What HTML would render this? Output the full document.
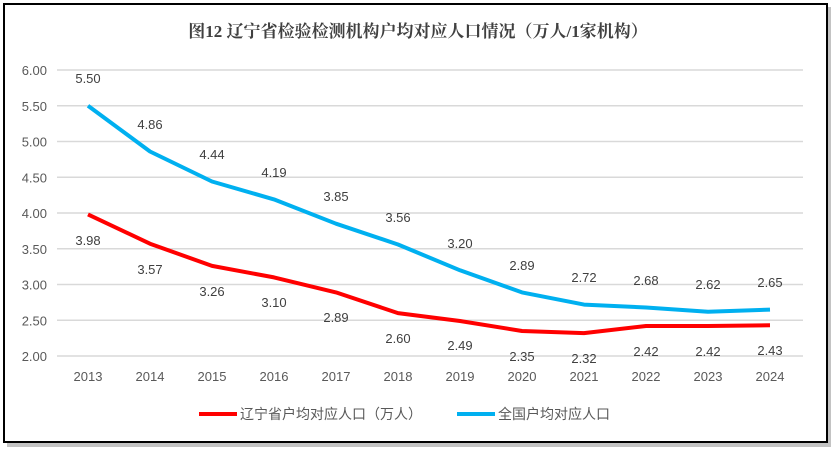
<!DOCTYPE html>
<html><head><meta charset="utf-8"><style>
html,body{margin:0;padding:0;background:#fff;}
</style></head><body>
<svg width="836" height="453" xmlns="http://www.w3.org/2000/svg" font-family="Liberation Sans, Noto Sans CJK SC, sans-serif">
<rect x="7" y="7" width="824" height="440" fill="#888" opacity="0.5"/>
<rect x="4" y="4" width="823" height="438" fill="#fff" stroke="#000" stroke-width="2"/>
<text x="418" y="37" text-anchor="middle" font-size="17" font-weight="bold" fill="#404040" font-family="Liberation Serif, Noto Serif CJK SC, serif">图12 辽宁省检验检测机构户均对应人口情况（万人/1家机构）</text>
<g stroke="#d9d9d9" stroke-width="1.5">
<line x1="57" y1="70" x2="803" y2="70"/><line x1="57" y1="105.75" x2="803" y2="105.75"/><line x1="57" y1="141.5" x2="803" y2="141.5"/><line x1="57" y1="177.25" x2="803" y2="177.25"/><line x1="57" y1="213" x2="803" y2="213"/><line x1="57" y1="248.75" x2="803" y2="248.75"/><line x1="57" y1="284.5" x2="803" y2="284.5"/><line x1="57" y1="320.25" x2="803" y2="320.25"/><line x1="57" y1="356" x2="803" y2="356"/>
</g>
<g font-size="13" fill="#595959" text-anchor="end">
<text x="47" y="75">6.00</text><text x="47" y="110.75">5.50</text><text x="47" y="146.5">5.00</text><text x="47" y="182.25">4.50</text><text x="47" y="218">4.00</text><text x="47" y="253.75">3.50</text><text x="47" y="289.5">3.00</text><text x="47" y="325.25">2.50</text><text x="47" y="361">2.00</text>
</g>
<g font-size="13" fill="#595959" text-anchor="middle">
<text x="88" y="381">2013</text><text x="150" y="381">2014</text><text x="212" y="381">2015</text><text x="274" y="381">2016</text><text x="336" y="381">2017</text><text x="398" y="381">2018</text><text x="460" y="381">2019</text><text x="522" y="381">2020</text><text x="584" y="381">2021</text><text x="646" y="381">2022</text><text x="708" y="381">2023</text><text x="770" y="381">2024</text>
</g>
<polyline fill="none" stroke="#00b0f0" stroke-width="4" stroke-linejoin="round" points="88,105.75 150,151.5 212,181.5 274,199.4 336,223.7 398,244.5 460,270.3 522,292.4 584,304.6 646,307.5 708,311.8 770,309.6"/>
<polyline fill="none" stroke="#ff0000" stroke-width="4" stroke-linejoin="round" points="88,214.4 150,243.7 212,265.9 274,277.4 336,292.4 398,313.1 460,321 522,331 584,333.1 646,326 708,326 770,325.3"/>
<g font-size="13" fill="#404040" text-anchor="middle">
<text x="88" y="83">5.50</text><text x="150" y="129">4.86</text><text x="212" y="159">4.44</text><text x="274" y="177">4.19</text><text x="336" y="201">3.85</text><text x="398" y="222">3.56</text><text x="460" y="248">3.20</text><text x="522" y="270">2.89</text><text x="584" y="282">2.72</text><text x="646" y="285">2.68</text><text x="708" y="289">2.62</text><text x="770" y="287">2.65</text>
<text x="88" y="245">3.98</text><text x="150" y="274">3.57</text><text x="212" y="296">3.26</text><text x="274" y="307">3.10</text><text x="336" y="322">2.89</text><text x="398" y="343">2.60</text><text x="460" y="350">2.49</text><text x="522" y="361">2.35</text><text x="584" y="363">2.32</text><text x="646" y="356">2.42</text><text x="708" y="356">2.42</text><text x="770" y="355">2.43</text>
</g>
<line x1="199" y1="414" x2="237" y2="414" stroke="#ff0000" stroke-width="4"/>
<text x="240" y="419" font-size="14" fill="#595959">辽宁省户均对应人口（万人）</text>
<line x1="457" y1="414" x2="495" y2="414" stroke="#00b0f0" stroke-width="4"/>
<text x="498" y="419" font-size="14" fill="#595959">全国户均对应人口</text>
</svg>
</body></html>
